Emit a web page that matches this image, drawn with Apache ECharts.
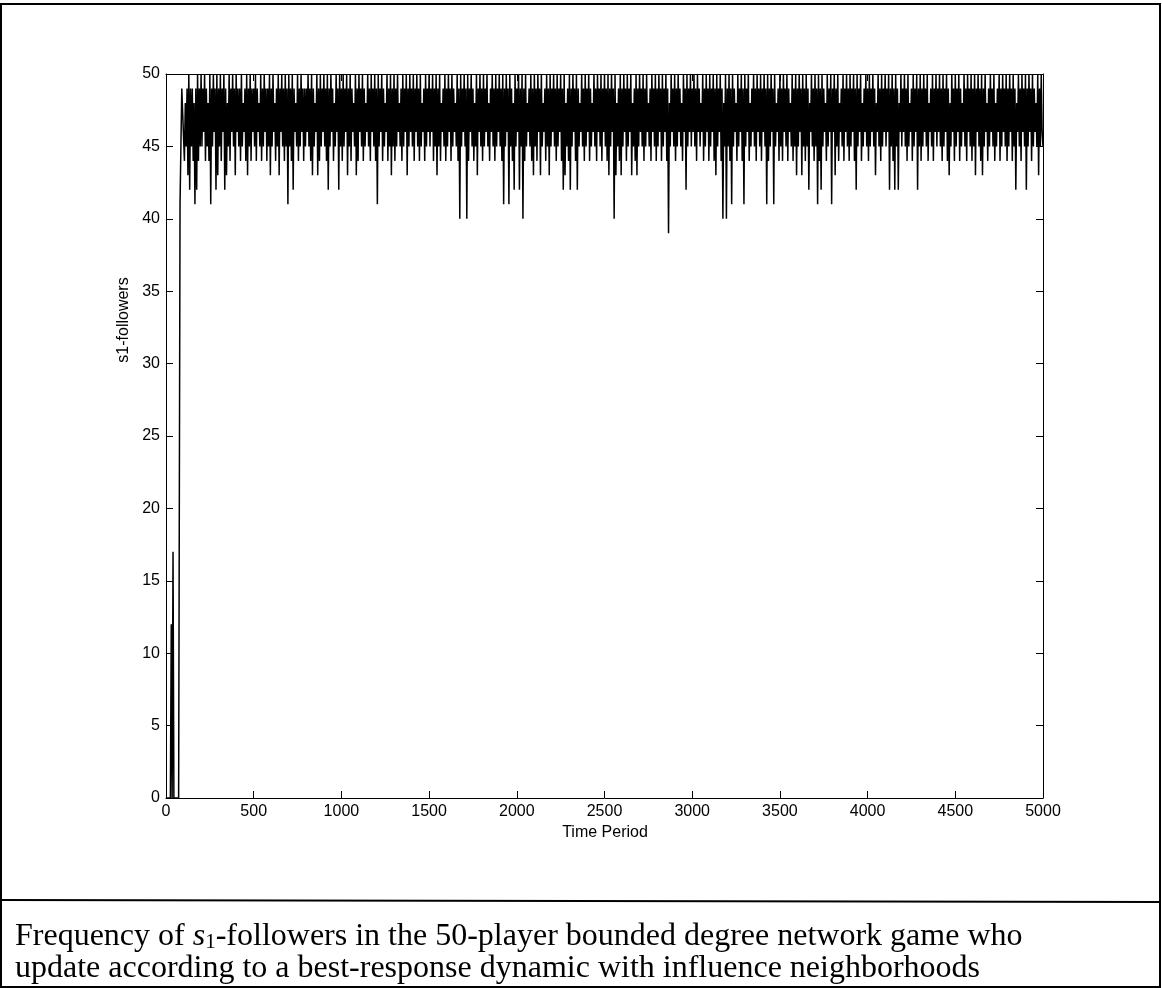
<!DOCTYPE html>
<html>
<head>
<meta charset="utf-8">
<script src="https://cdn.jsdelivr.net/npm/echarts@6/dist/echarts.min.js"></script>
<style>
  html, body { margin: 0; padding: 0; background: #fff; }
  #chart { width: 1162px; height: 988px; }
</style>
</head>
<body>
<div id="chart"></div>
<script>
// start-up phase, read point by point
var earlyTimes = [0, 25, 30, 35, 40, 45, 72, 80, 90];
var earlyValues = [0, 0, 12, 0, 17, 0, 0, 41, 49];

// from t=100 on the series is read every 5 periods (one row = 100 periods)
var bandStart = 100;
var bandStep = 5;
var bandValues = [
  49,44,48,45,49,43,50,42,49,45,49,44,48,41,49,42,50,44,49,45,
  50,45,49,46,50,44,49,45,48,44,50,41,49,45,50,46,49,42,50,43,
  49,45,50,44,49,46,50,42,49,43,48,45,50,44,49,46,50,45,49,43,
  50,46,49,45,49,44,50,45,48,46,49,44,50,43,49,45,50,44,49,46,
  49,45,50,44,49,46,48,45,50,44,49,45,50,46,49,44,49,45,50,43,
  49,45,50,46,48,44,49,45,50,43,49,46,50,45,49,44,50,45,49,41,
  50,45,49,44,50,42,49,46,48,45,50,44,49,45,50,46,49,44,49,45,
  49,46,50,45,49,44,50,43,49,45,48,46,50,43,49,44,50,45,49,46,
  50,45,49,44,50,42,49,45,50,46,49,44,48,45,50,46,49,42,50,45,
  49,44,50,45,49,46,50,43,49,45,50,44,49,46,48,45,50,43,49,44,
  50,46,49,45,50,44,49,45,48,46,50,45,49,44,50,46,49,45,50,44,
  49,41,50,45,49,46,50,44,49,45,48,46,50,44,49,45,50,43,49,45,
  50,44,49,45,50,46,48,45,49,44,50,45,49,46,50,43,49,45,50,46,
  49,45,50,44,49,46,50,45,49,44,50,45,48,46,49,44,50,45,49,46,
  50,45,49,46,50,44,49,45,50,43,49,45,50,44,48,46,49,45,50,44,
  49,45,50,46,49,44,50,45,49,46,48,45,50,44,49,40,50,45,49,46,
  50,45,49,40,50,44,49,46,50,45,49,44,48,45,50,43,49,46,50,45,
  49,44,50,45,49,46,50,45,48,44,49,46,50,45,49,44,50,45,49,46,
  50,45,49,44,50,41,49,45,50,46,49,41,50,45,49,44,48,42,50,45,
  49,46,50,42,49,45,50,40,49,44,50,45,48,46,49,45,50,44,49,43,
  50,45,49,44,50,46,49,43,50,45,48,46,49,44,50,45,49,43,50,45,
  49,46,50,45,49,44,50,45,49,46,50,44,49,42,50,43,48,45,49,44,
  50,42,49,45,50,46,49,44,50,42,49,45,48,46,50,45,49,44,50,45,
  49,46,50,44,49,45,48,46,50,45,49,44,50,46,49,45,50,44,49,46,
  50,45,49,44,50,43,49,45,50,46,49,40,50,43,48,45,49,44,50,43,
  49,45,50,46,49,44,50,45,49,46,50,43,48,45,49,44,50,43,49,45,
  50,46,49,45,50,44,49,45,50,46,48,45,49,44,50,46,49,45,50,44,
  49,45,50,46,49,44,50,45,49,46,50,44,49,39,48,45,50,46,49,45,
  50,44,49,45,50,46,49,45,48,44,50,46,49,42,50,45,49,46,50,45,
  49,46,50,45,49,44,50,46,49,45,48,46,50,44,49,45,50,46,49,44,
  50,45,49,46,50,44,49,43,50,45,49,46,50,44,49,40,48,45,50,40,
  49,45,50,44,49,41,50,45,49,46,48,44,50,45,49,46,50,44,49,41,
  50,45,49,46,50,44,48,45,49,46,50,45,49,44,50,46,49,45,50,44,
  49,46,50,45,49,41,50,44,49,45,50,46,49,41,50,45,48,46,49,44,
  50,45,49,44,50,46,49,45,50,44,49,46,48,45,50,44,49,45,50,43,
  49,45,50,46,49,43,50,45,49,44,50,45,49,42,48,46,50,45,49,44,
  50,45,49,41,50,44,49,42,50,45,49,46,48,44,50,45,49,46,50,41,
  49,46,50,43,49,45,50,44,48,46,49,45,50,44,49,46,50,45,49,44,
  50,45,49,46,50,44,49,42,50,45,49,46,50,44,48,45,49,46,50,45,
  49,44,50,45,49,46,50,45,49,43,48,46,50,45,49,44,50,45,49,46,
  50,45,49,46,50,42,49,45,50,44,49,42,50,45,49,42,48,46,50,45,
  49,46,50,45,49,44,50,45,48,46,49,44,50,45,49,46,50,42,49,45,
  50,44,49,45,50,46,49,45,50,44,48,46,49,45,50,44,49,46,50,45,
  49,46,50,45,49,44,50,45,49,46,50,44,49,43,48,45,50,46,49,44,
  50,45,49,46,50,44,49,45,48,46,50,45,49,44,50,46,49,45,50,44,
  49,45,50,43,49,46,50,45,49,44,50,43,49,45,50,46,48,44,49,45,
  50,46,49,45,50,44,48,45,49,46,50,44,49,45,50,46,49,45,50,44,
  49,45,50,46,49,44,50,45,49,42,48,46,50,45,49,44,50,46,49,45,
  50,42,49,45,50,46,49,44,50,45,49,46,48,45,50,43,49,45,50,46,
  45
];

var xTicks = { min: 0, max: 5000, interval: 500 };
var yTicks = { min: 0, max: 50, interval: 5 };

var seriesData = [];
for (var i = 0; i < earlyTimes.length; i++) {
  seriesData.push([earlyTimes[i], earlyValues[i]]);
}
for (var j = 0; j < bandValues.length; j++) {
  seriesData.push([bandStart + j * bandStep, bandValues[j]]);
}

var chart = echarts.init(document.getElementById('chart'), null, { renderer: 'canvas' });

var labelFont = { fontFamily: 'Liberation Sans', fontSize: 16, color: '#000' };

function boxAxis() {
  return {
    show: true,
    axisLine: { show: true, onZero: false, lineStyle: { color: '#000', width: 1 } },
    axisTick: { show: true, inside: true, length: 7, lineStyle: { color: '#000' } },
    axisLabel: { show: false },
    splitLine: { show: false }
  };
}

var xBottom = Object.assign(boxAxis(), {
  type: 'value', position: 'bottom', min: xTicks.min, max: xTicks.max, interval: xTicks.interval
});
xBottom.axisLabel = Object.assign({ margin: 6, formatter: function (v) { return String(v); } }, labelFont);
var xTop = Object.assign(boxAxis(), {
  type: 'value', position: 'top', min: xTicks.min, max: xTicks.max, interval: xTicks.interval
});
var yLeft = Object.assign(boxAxis(), {
  type: 'value', position: 'left', min: yTicks.min, max: yTicks.max, interval: yTicks.interval
});
yLeft.axisLabel = Object.assign({ margin: 6 }, labelFont);
var yRight = Object.assign(boxAxis(), {
  type: 'value', position: 'right', min: yTicks.min, max: yTicks.max, interval: yTicks.interval
});

var option = {
  backgroundColor: '#fff',
  animation: false,
  grid: { left: 166, right: 119, top: 74, bottom: 190, containLabel: false },
  xAxis: [xBottom, xTop],
  yAxis: [yLeft, yRight],
  series: [{
    type: 'line',
    xAxisIndex: 0,
    yAxisIndex: 0,
    data: seriesData,
    showSymbol: false,
    sampling: null,
    clip: true,
    lineStyle: { color: '#000', width: 1.5, join: 'bevel' },
    emphasis: { disabled: true }
  }],
  graphic: [
    // outer page frame and caption box
    { type: 'rect', shape: { x: 1, y: 4, width: 1159, height: 983 },
      style: { fill: 'none', stroke: '#000', lineWidth: 2 }, silent: true },
    { type: 'line', shape: { x1: 1, y1: 900, x2: 1160, y2: 902 },
      style: { stroke: '#000', lineWidth: 2 }, silent: true },
    // axis titles
    { type: 'text', x: 605, y: 825,
      style: { text: 'Time Period', font: '16px "Liberation Sans"', fill: '#000', textAlign: 'center' } },
    { type: 'text', x: 124, y: 320, rotation: Math.PI / 2,
      style: { text: 's1-followers', font: '16px "Liberation Sans"', fill: '#000', textAlign: 'center', textVerticalAlign: 'middle' } },
    // caption
    { type: 'text', x: 15, y: 921,
      style: {
        text: 'Frequency of {s|s}{sub|1}-followers in the 50-player bounded degree network game who\nupdate according to a best-response dynamic with influence neighborhoods',
        font: '32px "Liberation Serif"', fill: '#000', lineHeight: 32,
        rich: {
          s: { fontFamily: 'Liberation Serif', fontSize: 32, fontStyle: 'italic', fill: '#000' },
          sub: { fontFamily: 'Liberation Serif', fontSize: 21, fill: '#000', verticalAlign: 'bottom', padding: [11, 0, 0, 0] }
        }
      } }
  ]
};

chart.setOption(option);
</script>
</body>
</html>
